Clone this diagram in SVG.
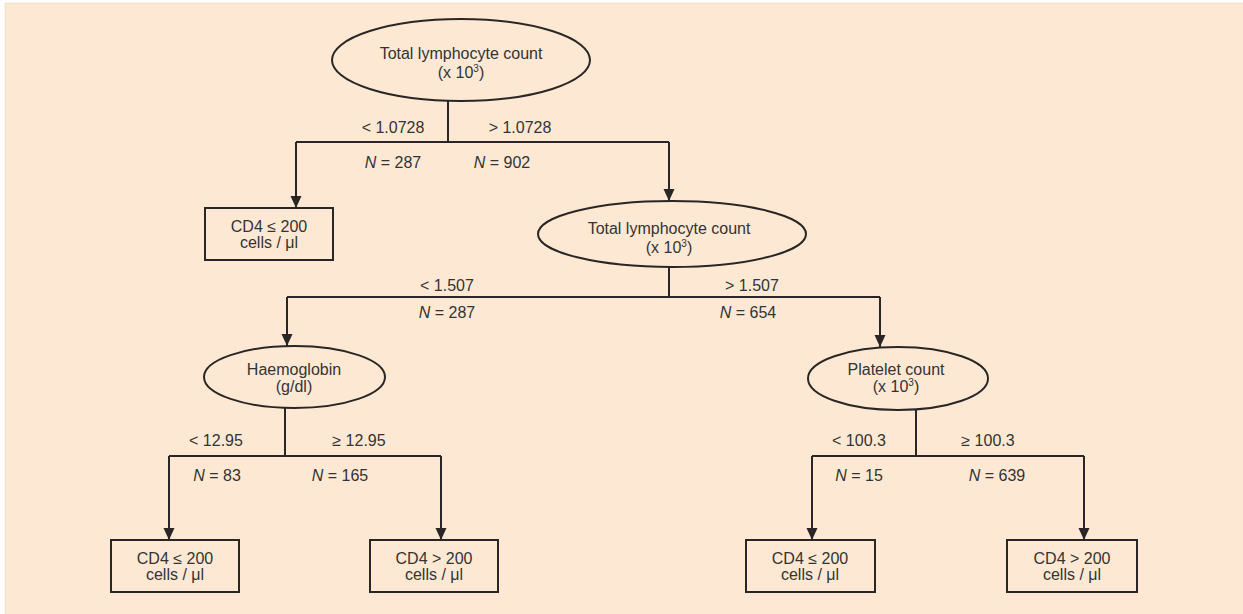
<svg xmlns="http://www.w3.org/2000/svg" width="1243" height="614" viewBox="0 0 1243 614">
<defs>
<style>
.bg{fill:#fde9d3;stroke:#e6d6c4;stroke-width:0.6}
.shape{fill:#fde9d3;stroke:#2a2626;stroke-width:2}
.ln{fill:none;stroke:#2a2626;stroke-width:2}
text{font-family:"Liberation Sans",Arial,sans-serif;font-size:16px;fill:#333;text-anchor:middle}
.sup{font-size:10px}
.it{font-style:italic}
</style>
<marker id="ah" viewBox="0 0 12 12" refX="12" refY="6" markerWidth="12" markerHeight="12" orient="auto" markerUnits="userSpaceOnUse">
<path d="M0,0.5 L12,6 L0,11.5 z" fill="#2a2626"/>
</marker>
</defs>
<rect class="bg" x="5" y="3" width="1240" height="613"/>
<g id="connectors">
<path class="ln" d="M448,101 V142"/>
<path class="ln" d="M296,142 H669"/>
<path class="ln" d="M296,142 V208" marker-end="url(#ah)"/>
<path class="ln" d="M669,142 V201" marker-end="url(#ah)"/>
<path class="ln" d="M669,267 V297"/>
<path class="ln" d="M287,297 H880"/>
<path class="ln" d="M287,297 V346" marker-end="url(#ah)"/>
<path class="ln" d="M880,297 V347" marker-end="url(#ah)"/>
<path class="ln" d="M285,408 V456"/>
<path class="ln" d="M169,456 H441"/>
<path class="ln" d="M169,456 V540" marker-end="url(#ah)"/>
<path class="ln" d="M441,456 V540" marker-end="url(#ah)"/>
<path class="ln" d="M916,410 V456"/>
<path class="ln" d="M812,456 H1084"/>
<path class="ln" d="M812,456 V540" marker-end="url(#ah)"/>
<path class="ln" d="M1084,456 V540" marker-end="url(#ah)"/>
<text x="393" y="133">&lt; 1.0728</text>
<text x="520" y="133">&gt; 1.0728</text>
<text x="393" y="168"><tspan class="it">N</tspan> = 287</text>
<text x="502" y="168"><tspan class="it">N</tspan> = 902</text>
<text x="447" y="291">&lt; 1.507</text>
<text x="752" y="291">&gt; 1.507</text>
<text x="447" y="318"><tspan class="it">N</tspan> = 287</text>
<text x="748" y="318"><tspan class="it">N</tspan> = 654</text>
<text x="216" y="446">&lt; 12.95</text>
<text x="359" y="446">≥ 12.95</text>
<text x="217" y="481"><tspan class="it">N</tspan> = 83</text>
<text x="340" y="481"><tspan class="it">N</tspan> = 165</text>
<text x="859" y="446">&lt; 100.3</text>
<text x="988" y="446">≥ 100.3</text>
<text x="859" y="481"><tspan class="it">N</tspan> = 15</text>
<text x="997" y="481"><tspan class="it">N</tspan> = 639</text>
</g>
<g id="root">
<ellipse class="shape" cx="461" cy="60" rx="129" ry="41"/>
<text x="461" y="59">Total lymphocyte count</text>
<text x="461" y="78">(x 10<tspan class="sup" dy="-6">3</tspan><tspan dy="6">)</tspan></text>
</g>
<g id="leaf1">
<rect class="shape" x="205" y="208" width="128" height="52"/>
<text x="269" y="232">CD4 ≤ 200</text>
<text x="269" y="248">cells / μl</text>
</g>
<g id="tlc2">
<ellipse class="shape" cx="672" cy="234" rx="134" ry="33"/>
<text x="669" y="234">Total lymphocyte count</text>
<text x="669" y="253">(x 10<tspan class="sup" dy="-6">3</tspan><tspan dy="6">)</tspan></text>
</g>
<g id="haemoglobin">
<ellipse class="shape" cx="294.5" cy="377" rx="90.5" ry="31"/>
<text x="294" y="375">Haemoglobin</text>
<text x="294" y="392">(g/dl)</text>
</g>
<g id="platelet">
<ellipse class="shape" cx="898" cy="378.5" rx="90" ry="31.5"/>
<text x="896" y="375">Platelet count</text>
<text x="896" y="392">(x 10<tspan class="sup" dy="-6">3</tspan><tspan dy="6">)</tspan></text>
</g>
<g id="leaf2">
<rect class="shape" x="111" y="540" width="128" height="52"/>
<text x="175" y="564">CD4 ≤ 200</text>
<text x="175" y="580">cells / μl</text>
</g>
<g id="leaf3">
<rect class="shape" x="370" y="540" width="128" height="52"/>
<text x="434" y="564">CD4 &gt; 200</text>
<text x="434" y="580">cells / μl</text>
</g>
<g id="leaf4">
<rect class="shape" x="746" y="540" width="129" height="52"/>
<text x="810" y="564">CD4 ≤ 200</text>
<text x="810" y="580">cells / μl</text>
</g>
<g id="leaf5">
<rect class="shape" x="1007" y="540" width="130" height="52"/>
<text x="1072" y="564">CD4 &gt; 200</text>
<text x="1072" y="580">cells / μl</text>
</g>
</svg>
